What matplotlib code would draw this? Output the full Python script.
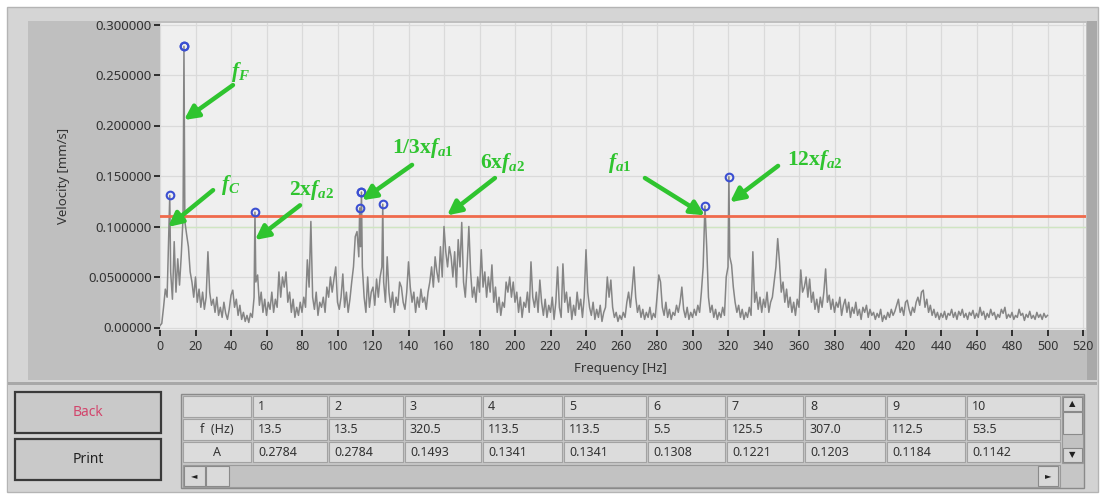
import numpy as np
import matplotlib
matplotlib.use('Agg')
import matplotlib.pyplot as plt
from matplotlib.patches import Rectangle

W, H = 1102, 496

# ---------------- data ----------------
# spectrum amplitude in 0.001 mm/s, read at 1 Hz steps from 0 to 500 Hz
spec_milli = [
    2, 4, 20, 38, 30, 95, 55, 28, 85, 35, 68, 42, 72, 110, 105, 92, 80, 55, 45, 30,
    50, 25, 38, 20, 35, 18, 30, 75, 35, 22, 28, 15, 30, 12, 20, 10, 25, 14, 8, 18,
    32, 37, 20, 28, 12, 22, 8, 15, 6, 12, 5, 14, 10, 30, 45, 52, 22, 35, 15, 28,
    12, 25, 18, 35, 15, 28, 20, 55, 30, 50, 40, 55, 25, 35, 15, 28, 10, 20, 12, 25,
    15, 30, 20, 67, 40, 105, 30, 18, 35, 12, 25, 20, 30, 15, 40, 30, 50, 35, 48, 60,
    25, 18, 30, 53, 20, 35, 15, 28, 45, 60, 90, 95, 70, 80, 60, 30, 15, 50, 20, 35,
    40, 22, 48, 30, 50, 60, 45, 25, 70, 35, 20, 35, 15, 30, 22, 45, 40, 25, 18, 35,
    65, 40, 25, 35, 15, 30, 20, 38, 25, 30, 18, 35, 45, 60, 40, 70, 55, 45, 80, 50,
    100, 75, 60, 80, 70, 50, 75, 40, 87, 60, 104, 45, 30, 60, 100, 55, 30, 40, 25, 50,
    35, 77, 40, 55, 30, 50, 35, 62, 25, 40, 15, 30, 12, 25, 20, 45, 35, 50, 30, 45,
    25, 35, 15, 30, 10, 25, 20, 35, 15, 65, 30, 20, 35, 15, 47, 25, 12, 28, 10, 22,
    15, 30, 8, 25, 60, 20, 10, 63, 25, 35, 15, 30, 8, 22, 12, 35, 18, 28, 10, 30,
    77, 35, 20, 12, 25, 8, 18, 10, 22, 6, 15, 20, 50, 30, 47, 20, 10, 15, 6, 12,
    8, 15, 10, 25, 35, 20, 38, 60, 30, 15, 22, 10, 18, 8, 15, 10, 20, 8, 14, 10,
    30, 52, 45, 20, 12, 25, 10, 18, 8, 15, 12, 22, 15, 25, 40, 18, 10, 20, 8, 15,
    10, 18, 12, 22, 15, 35, 60, 100, 80, 30, 15, 22, 10, 18, 8, 15, 10, 20, 12, 50,
    60, 70, 62, 40, 25, 15, 22, 10, 18, 8, 15, 10, 20, 12, 75, 25, 35, 18, 30, 15,
    28, 20, 35, 15, 25, 30, 45, 60, 88, 65, 35, 45, 25, 38, 20, 30, 15, 25, 12, 28,
    20, 57, 35, 40, 50, 30, 48, 25, 35, 18, 28, 15, 30, 20, 35, 58, 25, 32, 18, 28,
    15, 25, 20, 30, 12, 22, 28, 15, 25, 10, 20, 14, 25, 12, 18, 8, 20, 15, 22, 10,
    18, 12, 15, 8, 14, 10, 18, 6, 12, 8, 15, 10, 18, 12, 16, 22, 28, 15, 20, 12,
    25, 27, 18, 12, 20, 15, 25, 30, 22, 35, 37, 20, 28, 15, 22, 12, 18, 10, 15, 8,
    14, 10, 16, 8, 14, 12, 18, 10, 15, 8, 16, 12, 18, 10, 14, 8, 15, 12, 17, 9,
    14, 10, 20, 12, 16, 8, 14, 10, 18, 12, 15, 8, 13, 10, 18, 14, 20, 9, 13, 10,
    15, 8, 12, 10, 18, 12, 14, 7, 13, 10, 16, 9, 12, 8, 15, 10, 13, 8, 14, 10,
    12,
]
spec_step_hz = 1.0

table_cols = ['1', '2', '3', '4', '5', '6', '7', '8', '9', '10']
table_freq = [13.5, 13.5, 320.5, 113.5, 113.5, 5.5, 125.5, 307.0, 112.5, 53.5]
table_amp = [0.2784, 0.2784, 0.1493, 0.1341, 0.1341, 0.1308, 0.1221, 0.1203, 0.1184, 0.1142]

threshold = 0.11

x_ticks = list(range(0, 521, 20))
y_ticks = [0.0, 0.05, 0.10, 0.15, 0.20, 0.25, 0.30]
y_tick_labels = ['0.00000', '0.0500000', '0.100000', '0.150000', '0.200000', '0.250000', '0.300000']

# ------------- merge spectrum with peak values -------------
base_f = np.arange(len(spec_milli)) * spec_step_hz
base_a = np.array(spec_milli) / 1000.0
merged = dict(zip(base_f.tolist(), base_a.tolist()))
for f, a in zip(table_freq, table_amp):
    merged[float(f)] = a
freq = np.array(sorted(merged))
amp = np.array([merged[f] for f in freq])

# ---------------- style ----------------
plt.rcParams['font.family'] = ['Noto Sans', 'DejaVu Sans']
plt.rcParams['mathtext.fontset'] = 'custom'
plt.rcParams['mathtext.rm'] = 'Liberation Serif:bold'
plt.rcParams['mathtext.bf'] = 'Liberation Serif:bold'
plt.rcParams['mathtext.it'] = 'Liberation Serif:italic:bold'

fig = plt.figure(figsize=(W / 100, H / 100), dpi=100, facecolor='white')


def rect(x0, y0, x1, y1, fc, ec='none', lw=0, z=-5):
    r = Rectangle((x0 / W, 1 - y1 / H), (x1 - x0) / W, (y1 - y0) / H,
                  transform=fig.transFigure, facecolor=fc, edgecolor=ec,
                  linewidth=lw, zorder=z)
    fig.patches.append(r)
    return r


def ftext(x, y, s, **kw):
    fig.text(x / W, 1 - y / H, s, **kw)


# panels (behind the axes)
rect(7, 7, 1098, 492, '#d5d5d5', '#b4b4b4', 1.0, z=-10)
rect(28, 21, 1087, 380, '#bfbfbf', z=-9)
rect(1087, 21, 1097, 380, '#a9a9a9', z=-9)
rect(8, 382, 1097, 385, '#a8a8a8', z=-9)
rect(8, 385, 1097, 491, '#d3d3d3', z=-9)

# ---------------- chart ----------------
ax_l, ax_r, ax_t, ax_b = 160, 1086, 22.5, 330
ax = fig.add_axes([ax_l / W, 1 - ax_b / H, (ax_r - ax_l) / W, (ax_b - ax_t) / H])
ax.set_zorder(1)
ax.set_facecolor('#efefef')
px_per_hz = 1.775
px_per_unit = 1010.0
ax.set_xlim(0, (ax_r - ax_l) / px_per_hz)
ax.set_ylim(-(ax_b - 327.5) / px_per_unit, (327.5 - ax_t) / px_per_unit)
for s in ax.spines.values():
    s.set_visible(False)

ax.set_xticks(x_ticks)
ax.set_xticklabels([str(v) for v in x_ticks])
ax.set_yticks(y_ticks)
ax.set_yticklabels(y_tick_labels)
ax.tick_params(axis='both', direction='out', length=4, width=1.3, color='#222222',
               labelcolor='#333333', labelsize=9)
ax.tick_params(axis='x', pad=3)
ax.tick_params(axis='y', pad=2, labelsize=9.5)
ax.grid(True, color='#dadada', lw=0.9, zorder=0)
ax.set_axisbelow(True)

ax.axhline(0.10, color='#cfe5c2', lw=1.0, zorder=1)
ax.plot(freq, amp, color='#858585', lw=1.1, zorder=2)
ax.axhline(threshold, color='#ef6a4c', lw=2.0, zorder=3)
ax.plot(table_freq, table_amp, 'o', mfc='none', mec='#3b4fd2', ms=5.5, mew=1.5, zorder=4)

ax.set_xlabel('Frequency [Hz]', fontsize=9.5, color='#333333')
ax.set_ylabel('Velocity [mm/s]', fontsize=9.5, color='#333333')
ax.xaxis.set_label_coords((620 - ax_l) / (ax_r - ax_l), -(362 - ax_b) / (ax_b - ax_t))
ax.yaxis.set_label_coords(-(ax_l - 70) / (ax_r - ax_l), 0.5)

# annotations
green = '#2fc42f'
annots = [
    (r'$f_{F}$', (45.1, 0.253), (41.1, 0.240), (13.5, 0.2054)),
    (r'$f_{C}$', (40.0, 0.141), (29.9, 0.136), (4.5, 0.0995)),
    (r'$\mathrm{2x}f_{a2}$', (85.6, 0.136), (78.9, 0.121), (53.5, 0.0866)),
    (r'$\mathrm{1/3x}f_{a1}$', (148.2, 0.178), (142.0, 0.161), (113.8, 0.126)),
    (r'$\mathrm{6x}f_{a2}$', (193.2, 0.163), (188.7, 0.148), (161.7, 0.111)),
    (r'$f_{a1}$', (259.2, 0.163), (273.2, 0.148), (307.0, 0.111)),
    (r'$\mathrm{12x}f_{a2}$', (369.0, 0.166), (348.2, 0.160), (321.1, 0.124)),
]
for label, tpos, start, end in annots:
    ax.text(tpos[0], tpos[1], label, color=green, fontsize=15.5, ha='center', va='center', zorder=6)
    ax.annotate('', xy=end, xytext=start,
                arrowprops=dict(arrowstyle='-|>', color=green, lw=3.2, mutation_scale=21,
                                shrinkA=0, shrinkB=0),
                zorder=6, annotation_clip=False)

# ---------------- buttons ----------------
for (y0, y1, txt, col) in [(392, 433, 'Back', '#d2456c'), (439, 480, 'Print', '#222222')]:
    rect(15, y0, 161, y1, '#c9c9c9', '#3a3a3a', 1.6, z=1)
    ftext(88, (y0 + y1) / 2, txt, color=col, fontsize=10, ha='center', va='center')

# ---------------- table ----------------
col_edges = [182, 252, 328, 404, 482, 563, 647, 726, 804, 886, 966, 1061]
row_edges = [395, 418, 441, 463]
rect(181, 394, 1084, 488, '#c6c6c6', '#8a8a8a', 1.0, z=1)
for r in range(3):
    for c in range(len(col_edges) - 1):
        rect(col_edges[c] + 1, row_edges[r] + 1, col_edges[c + 1] - 1, row_edges[r + 1] - 1,
             '#dcdcdc', '#a2a2a2', 0.8, z=2)
row_labels = ['', 'f  (Hz)', 'A']
for r in range(3):
    yc = (row_edges[r] + row_edges[r + 1]) / 2
    ftext((col_edges[0] + col_edges[1]) / 2, yc, row_labels[r], fontsize=9, color='#333333',
          ha='center', va='center')
for c in range(10):
    x0 = col_edges[c + 1] + 6
    ftext(x0, (row_edges[0] + row_edges[1]) / 2, table_cols[c], fontsize=9, color='#333333', va='center')
    ftext(x0, (row_edges[1] + row_edges[2]) / 2, f'{table_freq[c]:.1f}', fontsize=9, color='#333333', va='center')
    ftext(x0, (row_edges[2] + row_edges[3]) / 2, f'{table_amp[c]:.4f}', fontsize=9, color='#333333', va='center')

# horizontal scrollbar
rect(183, 465, 1060, 487, '#c2c2c2', '#9a9a9a', 0.8, z=2)
rect(184, 466, 205, 486, '#d8d8d8', '#8a8a8a', 0.8, z=3)
rect(206, 466, 229, 486, '#dadada', '#8a8a8a', 0.8, z=3)
rect(1038, 466, 1058, 486, '#d8d8d8', '#8a8a8a', 0.8, z=3)
ftext(194.5, 476, '\u25c4', fontsize=6, color='#222222', ha='center', va='center', family='DejaVu Sans')
ftext(1048, 476, '\u25ba', fontsize=6, color='#222222', ha='center', va='center', family='DejaVu Sans')

# vertical scrollbar
rect(1062, 396, 1083, 463, '#c2c2c2', '#9a9a9a', 0.8, z=2)
rect(1063, 397, 1082, 411, '#d8d8d8', '#8a8a8a', 0.8, z=3)
rect(1063, 412, 1082, 434, '#dadada', '#8a8a8a', 0.8, z=3)
rect(1063, 448, 1082, 462, '#d8d8d8', '#8a8a8a', 0.8, z=3)
ftext(1072.5, 404, '\u25b2', fontsize=6, color='#222222', ha='center', va='center', family='DejaVu Sans')
ftext(1072.5, 455, '\u25bc', fontsize=6, color='#222222', ha='center', va='center', family='DejaVu Sans')

fig.savefig('out.png', dpi=100, facecolor='white')
